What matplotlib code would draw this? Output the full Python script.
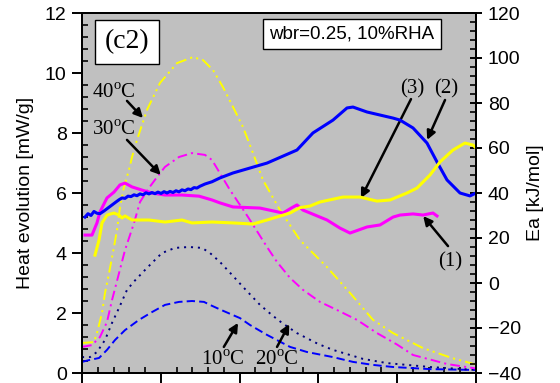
import numpy as np
import matplotlib
matplotlib.use("Agg")
import matplotlib.pyplot as plt
from matplotlib.ticker import MultipleLocator, NullFormatter

plt.rcParams['font.family'] = ['Liberation Sans', 'DejaVu Sans']
plt.rcParams['mathtext.fontset'] = 'custom'
plt.rcParams['mathtext.rm'] = 'Liberation Serif'
plt.rcParams['lines.scale_dashes'] = False

# heat evolution [mW/g] at 10/20/30/40 C
t10 = [0, 0.89, 2.16, 3.17, 4.19, 5.46, 7.23, 8.88, 10.53, 12.31, 13.96, 15.48, 16.24, 17.5, 19.16,
       20.05, 21.32, 23.48, 26.40, 28.55, 31.85, 34.39, 36.93, 39.47, 44.16, 50]
q10 = [0.37, 0.43, 0.5, 0.77, 1.1, 1.43, 1.77, 2.03, 2.27, 2.37, 2.4, 2.37, 2.27, 2.12, 1.93,
       1.83, 1.6, 1.27, 0.87, 0.7, 0.53, 0.37, 0.27, 0.2, 0.13, 0.1]

t20 = [0, 1.02, 1.90, 2.92, 3.81, 4.70, 5.71, 6.60, 7.87, 8.88, 10.15, 11.80, 13.58, 15.23, 16.24,
       17.51, 19.04, 20.43, 22.59, 24.11, 25.38, 27.28, 29.95, 31.85, 33.63, 35.66, 38.71, 44.16, 50]
q20 = [0.53, 0.53, 0.7, 1.1, 1.67, 2.17, 2.77, 3.05, 3.4, 3.67, 4.0, 4.17, 4.2, 4.17, 4.0,
       3.7, 3.27, 2.87, 2.27, 1.93, 1.67, 1.33, 0.97, 0.77, 0.63, 0.47, 0.33, 0.2, 0.1]

t30 = [0, 1.27, 2.28, 3.17, 3.81, 4.70, 5.46, 6.60, 7.36, 8.50, 9.52, 10.53, 12.31, 13.96, 15.61,
       16.50, 18.78, 21.07, 23.48, 24.75, 26.40, 28.05, 30.20, 32.36, 34.90, 37.44, 39.97, 42.01, 46.32, 50]
q30 = [0.87, 0.93, 1.2, 1.7, 2.43, 3.33, 4.1, 5.0, 5.7, 6.17, 6.53, 6.87, 7.2, 7.33, 7.27,
       7.1, 6.1, 5.2, 4.2, 3.7, 3.17, 2.77, 2.37, 2.1, 1.77, 1.33, 0.95, 0.6, 0.3, 0.15]

t40 = [0, 1.52, 1.90, 2.54, 2.92, 3.43, 4.06, 4.44, 4.82, 5.33, 5.96, 6.35, 6.98, 8.25, 9.90, 12.06,
       14.09, 15.36, 16.62, 17.89, 19.16, 20.43, 21.70, 22.97, 25.13, 27.66, 31.09, 34.01, 36.93,
       39.47, 43.27, 46.95, 50]
q40 = [1.0, 1.03, 1.33, 2.0, 2.67, 3.33, 4.2, 4.77, 5.53, 6.2, 6.77, 7.2, 7.77, 8.77, 9.67, 10.33,
       10.53, 10.43, 10.1, 9.53, 8.87, 8.2, 7.33, 6.43, 5.43, 4.43, 3.53, 2.67, 1.77,
       1.33, 0.83, 0.5, 0.28]

# apparent activation energy Ea [kJ/mol], curves (1), (2), (3)
te1 = [0.38, 1.27, 1.90, 2.28, 3.17, 4.06, 4.82, 5.46, 6.35, 7.61, 8.88, 10.53, 12.69, 14.85, 16.50,
       17.51, 19.16, 22.59, 25.51, 26.65, 27.28, 28.05, 31.09, 32.74, 34.01, 36.17, 37.82, 39.47,
       40.36, 42.01, 43.27, 44.54, 45.05]
ea1 = [21.3, 21.3, 26.7, 31.6, 37.8, 40.4, 43.6, 44.4, 42.7, 41.3, 40.0, 39.1, 39.1, 38.6, 36.9,
       35.6, 33.8, 33.3, 31.1, 33.5, 34.7, 32.4, 28.0, 24.4, 22.2, 24.9, 25.8, 29.3,
       30.2, 30.7, 30.2, 31.1, 29.8]

te2 = [0.38, 0.76, 1.14, 1.52, 1.90, 2.28, 2.79, 3.17, 3.55, 3.93, 4.31, 4.70, 5.08, 5.46, 5.84,
       6.22, 6.60, 6.98, 7.36, 7.74, 8.12, 8.50, 8.88, 9.26, 9.64, 10.03, 10.41, 10.79, 11.17, 11.55,
       11.93, 12.31, 12.69, 13.07, 13.45, 13.83, 14.21, 14.59, 14.97, 15.61, 16.50, 17.51, 19.16,
       23.48, 27.28, 29.31, 31.85, 33.63, 34.39, 36.17, 39.47, 40.36, 42.01, 43.78, 45.05, 46.32,
       47.97, 49.24, 50]
ea2 = [29.3, 30.8, 30.0, 31.8, 31.0, 30.8, 32.0, 33.0, 34.0, 35.0, 36.0, 37.0, 37.8, 37.6, 38.6,
       38.4, 39.2, 38.8, 39.6, 39.2, 40.1, 39.6, 40.2, 39.7, 40.4, 39.8, 40.6, 40.0, 40.7, 40.2,
       41.0, 40.5, 41.4, 41.0, 41.8, 41.5, 42.4, 42.2, 43.0, 44.0, 45.0, 46.7, 48.9,
       53.3, 59.1, 66.7, 72.4, 77.8, 78.2, 76.0, 73.3, 72.4, 68.9, 62.2, 53.8, 45.8,
       40.0, 38.7, 40.0]

te3 = [1.65, 2.16, 2.54, 3.17, 4.06, 4.70, 5.08, 5.46, 6.35, 8.50, 10.53, 12.69, 13.96, 16.50, 19.16,
       21.70, 23.48, 26.40, 27.66, 28.93, 30.20, 33.12, 35.28, 37.44, 39.09, 41.24, 42.51, 44.16,
       45.43, 47.08, 48.60, 49.62, 50]
ea3 = [12.4, 19.1, 26.7, 30.2, 31.1, 30.2, 28.9, 29.8, 28.0, 28.0, 27.1, 28.0, 26.7, 27.1, 26.7,
       26.2, 28.0, 31.1, 33.5, 34.2, 36.0, 38.2, 38.2, 36.4, 36.9, 40.0, 42.2, 48.0,
       53.8, 59.1, 62.2, 61.3, 60.0]

fig = plt.figure(figsize=(5.6, 3.83), dpi=100)
ax = fig.add_axes([82/560, 10/383, 394/560, 360/383])
ax.set_facecolor('#c0c0c0')
ax2 = ax.twinx()

ax.plot(t10, q10, color='#0000ff', lw=1.4, dashes=(6, 3))
ax.plot(t20, q20, color='#000080', lw=1.4, dashes=(1.5, 3.5))
ax.plot(t30, q30, color='#ff00ff', lw=1.4, dashes=(7, 3, 1.5, 3))
ax.plot(t40, q40, color='#ffff00', lw=1.4, dashes=(8, 3, 1.5, 3, 1.5, 3))

ax2.plot(te1, ea1, color='#ff00ff', lw=2.2)
ax2.plot(te2, ea2, color='#0000ff', lw=2.2)
ax2.plot(te3, ea3, color='#ffff00', lw=2.2)

ax.set_xlim(0, 50)
ax.set_ylim(0, 12)
ax2.set_ylim(-40, 120)

ax.xaxis.set_major_locator(MultipleLocator(10))
ax.xaxis.set_minor_locator(MultipleLocator(2))
ax.xaxis.set_major_formatter(NullFormatter())
ax.yaxis.set_major_locator(MultipleLocator(2))
ax.yaxis.set_minor_locator(MultipleLocator(0.4))
ax2.yaxis.set_major_locator(MultipleLocator(20))
ax2.yaxis.set_minor_locator(MultipleLocator(4))

for a in (ax, ax2):
    for s in a.spines.values():
        s.set_linewidth(1.4)
ax.tick_params(which='major', direction='out', length=7, width=1.4, labelsize=14, pad=4)
ax.tick_params(which='minor', direction='in', length=4, width=1.2)
ax.tick_params(top=False, right=False, which='both')
ax2.tick_params(which='major', direction='inout', length=9, width=1.4, labelsize=14, pad=4)
ax2.tick_params(which='minor', direction='in', length=4, width=1.2)

ax.set_ylabel('Heat evolution [mW/g]', fontsize=14, labelpad=8)
ax2.set_ylabel('Ea [kJ/mol]', fontsize=14, labelpad=4)

serif = 'Liberation Serif'
ax.text(5.71, 11.03, '(c2)', family=serif, fontsize=20, ha='center', va='center',
        bbox=dict(boxstyle='square,pad=0.35', fc='white', ec='k', lw=1))
ax.text(34.26, 11.3, 'wbr=0.25, 10%RHA', fontsize=13.5, ha='center', va='center',
        bbox=dict(boxstyle='square,pad=0.35', fc='white', ec='k', lw=1))

arrow = dict(arrowstyle='-|>', color='k', lw=1.8, mutation_scale=13, shrinkA=0, shrinkB=0)
labels = [
    (r'40$^{\mathrm{o}}$C', (4.06, 9.33), (5.71, 9.07), (7.74, 8.5)),
    (r'30$^{\mathrm{o}}$C', (4.06, 8.1), (5.71, 7.77), (10.0, 6.6)),
    (r'10$^{\mathrm{o}}$C', (17.9, 0.43), (18.0, 0.87), (19.8, 1.67)),
    (r'20$^{\mathrm{o}}$C', (24.75, 0.43), (24.75, 0.87), (26.3, 1.63)),
    ('(3)', (41.9, 9.47), (41.75, 9.13), (35.4, 5.83)),
    ('(2)', (46.2, 9.47), (46.07, 9.1), (43.8, 7.77)),
    ('(1)', (46.7, 3.7), (46.45, 4.23), (43.3, 5.23)),
]
for txt, pos, tail, head in labels:
    ax.text(pos[0], pos[1], txt, family=serif, fontsize=15, ha='center', va='center')
    ax.annotate('', xy=head, xytext=tail, arrowprops=arrow)

fig.savefig('out.png', dpi=100)
